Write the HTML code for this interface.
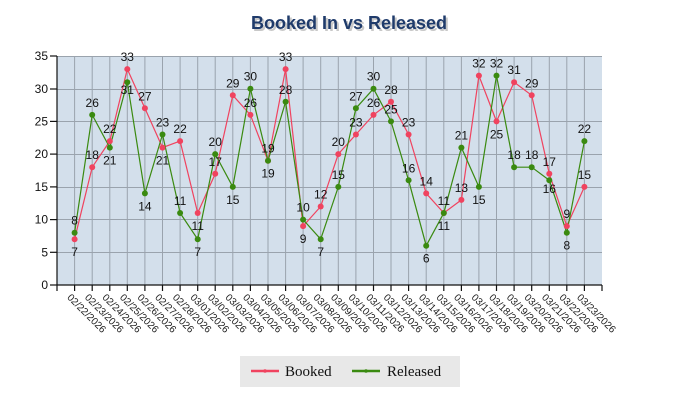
<!DOCTYPE html>
<html><head><meta charset="utf-8"><style>
html,body{margin:0;padding:0;background:#fff;}
svg{display:block;}
.v{font-family:"Liberation Sans",Arial,sans-serif;font-size:12px;fill:#111;text-anchor:middle;}
.x{font-family:"Liberation Sans",Arial,sans-serif;font-size:10px;fill:#222;}
.y{font-family:"Liberation Sans",Arial,sans-serif;font-size:12px;fill:#111;text-anchor:end;}
</style></head><body>
<svg width="700" height="400" viewBox="0 0 700 400" xmlns="http://www.w3.org/2000/svg">
<text x="351" y="31" text-anchor="middle" font-family="'Liberation Sans',Arial,sans-serif" font-weight="bold" font-size="18" fill="#c8c8c8">Booked In vs Released</text>
<text x="349" y="29" text-anchor="middle" font-family="'Liberation Sans',Arial,sans-serif" font-weight="bold" font-size="18" fill="#1f3b6b">Booked In vs Released</text>
<rect x="57" y="56" width="545" height="229" fill="#d3dfeb"/>
<g stroke="#9aa3ad" stroke-width="1">
<line x1="57" y1="56.5" x2="602" y2="56.5"/><line x1="57" y1="89.5" x2="602" y2="89.5"/><line x1="57" y1="121.5" x2="602" y2="121.5"/><line x1="57" y1="154.5" x2="602" y2="154.5"/><line x1="57" y1="187.5" x2="602" y2="187.5"/><line x1="57" y1="219.5" x2="602" y2="219.5"/><line x1="57" y1="252.5" x2="602" y2="252.5"/>
<line x1="74.6" y1="56" x2="74.6" y2="285"/><line x1="92.2" y1="56" x2="92.2" y2="285"/><line x1="109.8" y1="56" x2="109.8" y2="285"/><line x1="127.3" y1="56" x2="127.3" y2="285"/><line x1="144.9" y1="56" x2="144.9" y2="285"/><line x1="162.5" y1="56" x2="162.5" y2="285"/><line x1="180.1" y1="56" x2="180.1" y2="285"/><line x1="197.7" y1="56" x2="197.7" y2="285"/><line x1="215.2" y1="56" x2="215.2" y2="285"/><line x1="232.8" y1="56" x2="232.8" y2="285"/><line x1="250.4" y1="56" x2="250.4" y2="285"/><line x1="268.0" y1="56" x2="268.0" y2="285"/><line x1="285.6" y1="56" x2="285.6" y2="285"/><line x1="303.1" y1="56" x2="303.1" y2="285"/><line x1="320.7" y1="56" x2="320.7" y2="285"/><line x1="338.3" y1="56" x2="338.3" y2="285"/><line x1="355.9" y1="56" x2="355.9" y2="285"/><line x1="373.5" y1="56" x2="373.5" y2="285"/><line x1="391.0" y1="56" x2="391.0" y2="285"/><line x1="408.6" y1="56" x2="408.6" y2="285"/><line x1="426.2" y1="56" x2="426.2" y2="285"/><line x1="443.8" y1="56" x2="443.8" y2="285"/><line x1="461.4" y1="56" x2="461.4" y2="285"/><line x1="478.9" y1="56" x2="478.9" y2="285"/><line x1="496.5" y1="56" x2="496.5" y2="285"/><line x1="514.1" y1="56" x2="514.1" y2="285"/><line x1="531.7" y1="56" x2="531.7" y2="285"/><line x1="549.3" y1="56" x2="549.3" y2="285"/><line x1="566.8" y1="56" x2="566.8" y2="285"/><line x1="584.4" y1="56" x2="584.4" y2="285"/>
</g>
<g stroke="#111" stroke-width="1.2">
<line x1="57" y1="56" x2="57" y2="285"/><line x1="57" y1="285" x2="602" y2="285"/>
<line x1="50" y1="56" x2="57" y2="56"/><line x1="50" y1="89" x2="57" y2="89"/><line x1="50" y1="121.4" x2="57" y2="121.4"/><line x1="50" y1="154.1" x2="57" y2="154.1"/><line x1="50" y1="186.9" x2="57" y2="186.9"/><line x1="50" y1="219.6" x2="57" y2="219.6"/><line x1="50" y1="252.3" x2="57" y2="252.3"/><line x1="50" y1="285" x2="57" y2="285"/>
<line x1="57" y1="285" x2="57" y2="291"/><line x1="602" y1="285" x2="602" y2="291"/>
<line x1="74.6" y1="285" x2="74.6" y2="291"/><line x1="92.2" y1="285" x2="92.2" y2="291"/><line x1="109.8" y1="285" x2="109.8" y2="291"/><line x1="127.3" y1="285" x2="127.3" y2="291"/><line x1="144.9" y1="285" x2="144.9" y2="291"/><line x1="162.5" y1="285" x2="162.5" y2="291"/><line x1="180.1" y1="285" x2="180.1" y2="291"/><line x1="197.7" y1="285" x2="197.7" y2="291"/><line x1="215.2" y1="285" x2="215.2" y2="291"/><line x1="232.8" y1="285" x2="232.8" y2="291"/><line x1="250.4" y1="285" x2="250.4" y2="291"/><line x1="268.0" y1="285" x2="268.0" y2="291"/><line x1="285.6" y1="285" x2="285.6" y2="291"/><line x1="303.1" y1="285" x2="303.1" y2="291"/><line x1="320.7" y1="285" x2="320.7" y2="291"/><line x1="338.3" y1="285" x2="338.3" y2="291"/><line x1="355.9" y1="285" x2="355.9" y2="291"/><line x1="373.5" y1="285" x2="373.5" y2="291"/><line x1="391.0" y1="285" x2="391.0" y2="291"/><line x1="408.6" y1="285" x2="408.6" y2="291"/><line x1="426.2" y1="285" x2="426.2" y2="291"/><line x1="443.8" y1="285" x2="443.8" y2="291"/><line x1="461.4" y1="285" x2="461.4" y2="291"/><line x1="478.9" y1="285" x2="478.9" y2="291"/><line x1="496.5" y1="285" x2="496.5" y2="291"/><line x1="514.1" y1="285" x2="514.1" y2="291"/><line x1="531.7" y1="285" x2="531.7" y2="291"/><line x1="549.3" y1="285" x2="549.3" y2="291"/><line x1="566.8" y1="285" x2="566.8" y2="291"/><line x1="584.4" y1="285" x2="584.4" y2="291"/>
</g>
<text class="y" x="48" y="60">35</text><text class="y" x="48" y="93">30</text><text class="y" x="48" y="125.5">25</text><text class="y" x="48" y="158">20</text><text class="y" x="48" y="191">15</text><text class="y" x="48" y="223.5">10</text><text class="y" x="48" y="256.5">5</text><text class="y" x="48" y="289">0</text>
<g class="x">
<text transform="translate(66.6,298) rotate(45)">02/22/2026</text>
<text transform="translate(84.2,298) rotate(45)">02/23/2026</text>
<text transform="translate(101.8,298) rotate(45)">02/24/2026</text>
<text transform="translate(119.3,298) rotate(45)">02/25/2026</text>
<text transform="translate(136.9,298) rotate(45)">02/26/2026</text>
<text transform="translate(154.5,298) rotate(45)">02/27/2026</text>
<text transform="translate(172.1,298) rotate(45)">02/28/2026</text>
<text transform="translate(189.7,298) rotate(45)">03/01/2026</text>
<text transform="translate(207.2,298) rotate(45)">03/02/2026</text>
<text transform="translate(224.8,298) rotate(45)">03/03/2026</text>
<text transform="translate(242.4,298) rotate(45)">03/04/2026</text>
<text transform="translate(260.0,298) rotate(45)">03/05/2026</text>
<text transform="translate(277.6,298) rotate(45)">03/06/2026</text>
<text transform="translate(295.1,298) rotate(45)">03/07/2026</text>
<text transform="translate(312.7,298) rotate(45)">03/08/2026</text>
<text transform="translate(330.3,298) rotate(45)">03/09/2026</text>
<text transform="translate(347.9,298) rotate(45)">03/10/2026</text>
<text transform="translate(365.5,298) rotate(45)">03/11/2026</text>
<text transform="translate(383.0,298) rotate(45)">03/12/2026</text>
<text transform="translate(400.6,298) rotate(45)">03/13/2026</text>
<text transform="translate(418.2,298) rotate(45)">03/14/2026</text>
<text transform="translate(435.8,298) rotate(45)">03/15/2026</text>
<text transform="translate(453.4,298) rotate(45)">03/16/2026</text>
<text transform="translate(470.9,298) rotate(45)">03/17/2026</text>
<text transform="translate(488.5,298) rotate(45)">03/18/2026</text>
<text transform="translate(506.1,298) rotate(45)">03/19/2026</text>
<text transform="translate(523.7,298) rotate(45)">03/20/2026</text>
<text transform="translate(541.3,298) rotate(45)">03/21/2026</text>
<text transform="translate(558.8,298) rotate(45)">03/22/2026</text>
<text transform="translate(576.4,298) rotate(45)">03/23/2026</text>
</g>
<polyline fill="none" stroke="#f0435f" stroke-width="1.2" points="74.6,239.2 92.2,167.2 109.8,141.1 127.3,69.1 144.9,108.3 162.5,147.6 180.1,141.1 197.7,213.0 215.2,173.8 232.8,95.3 250.4,114.9 268.0,160.7 285.6,69.1 303.1,226.1 320.7,206.5 338.3,154.1 355.9,134.5 373.5,114.9 391.0,101.8 408.6,134.5 426.2,193.4 443.8,213.0 461.4,199.9 478.9,75.6 496.5,121.4 514.1,82.2 531.7,95.3 549.3,173.8 566.8,226.1 584.4,186.9"/>
<polyline fill="none" stroke="#3a8a10" stroke-width="1.2" points="74.6,232.7 92.2,114.9 109.8,147.6 127.3,82.2 144.9,193.4 162.5,134.5 180.1,213.0 197.7,239.2 215.2,154.1 232.8,186.9 250.4,88.7 268.0,160.7 285.6,101.8 303.1,219.6 320.7,239.2 338.3,186.9 355.9,108.3 373.5,88.7 391.0,121.4 408.6,180.3 426.2,245.7 443.8,213.0 461.4,147.6 478.9,186.9 496.5,75.6 514.1,167.2 531.7,167.2 549.3,180.3 566.8,232.7 584.4,141.1"/>
<g fill="#f0435f">
<circle cx="74.6" cy="239.2" r="3"/><circle cx="92.2" cy="167.2" r="3"/><circle cx="109.8" cy="141.1" r="3"/><circle cx="127.3" cy="69.1" r="3"/><circle cx="144.9" cy="108.3" r="3"/><circle cx="162.5" cy="147.6" r="3"/><circle cx="180.1" cy="141.1" r="3"/><circle cx="197.7" cy="213.0" r="3"/><circle cx="215.2" cy="173.8" r="3"/><circle cx="232.8" cy="95.3" r="3"/><circle cx="250.4" cy="114.9" r="3"/><circle cx="268.0" cy="160.7" r="3"/><circle cx="285.6" cy="69.1" r="3"/><circle cx="303.1" cy="226.1" r="3"/><circle cx="320.7" cy="206.5" r="3"/><circle cx="338.3" cy="154.1" r="3"/><circle cx="355.9" cy="134.5" r="3"/><circle cx="373.5" cy="114.9" r="3"/><circle cx="391.0" cy="101.8" r="3"/><circle cx="408.6" cy="134.5" r="3"/><circle cx="426.2" cy="193.4" r="3"/><circle cx="443.8" cy="213.0" r="3"/><circle cx="461.4" cy="199.9" r="3"/><circle cx="478.9" cy="75.6" r="3"/><circle cx="496.5" cy="121.4" r="3"/><circle cx="514.1" cy="82.2" r="3"/><circle cx="531.7" cy="95.3" r="3"/><circle cx="549.3" cy="173.8" r="3"/><circle cx="566.8" cy="226.1" r="3"/><circle cx="584.4" cy="186.9" r="3"/>
</g>
<g fill="#3a8a10">
<circle cx="74.6" cy="232.7" r="3"/><circle cx="92.2" cy="114.9" r="3"/><circle cx="109.8" cy="147.6" r="3"/><circle cx="127.3" cy="82.2" r="3"/><circle cx="144.9" cy="193.4" r="3"/><circle cx="162.5" cy="134.5" r="3"/><circle cx="180.1" cy="213.0" r="3"/><circle cx="197.7" cy="239.2" r="3"/><circle cx="215.2" cy="154.1" r="3"/><circle cx="232.8" cy="186.9" r="3"/><circle cx="250.4" cy="88.7" r="3"/><circle cx="268.0" cy="160.7" r="3"/><circle cx="285.6" cy="101.8" r="3"/><circle cx="303.1" cy="219.6" r="3"/><circle cx="320.7" cy="239.2" r="3"/><circle cx="338.3" cy="186.9" r="3"/><circle cx="355.9" cy="108.3" r="3"/><circle cx="373.5" cy="88.7" r="3"/><circle cx="391.0" cy="121.4" r="3"/><circle cx="408.6" cy="180.3" r="3"/><circle cx="426.2" cy="245.7" r="3"/><circle cx="443.8" cy="213.0" r="3"/><circle cx="461.4" cy="147.6" r="3"/><circle cx="478.9" cy="186.9" r="3"/><circle cx="496.5" cy="75.6" r="3"/><circle cx="514.1" cy="167.2" r="3"/><circle cx="531.7" cy="167.2" r="3"/><circle cx="549.3" cy="180.3" r="3"/><circle cx="566.8" cy="232.7" r="3"/><circle cx="584.4" cy="141.1" r="3"/>
</g>
<g class="v">
<text x="74.6" y="256.2">7</text><text x="92.2" y="159.2">18</text><text x="109.8" y="133.1">22</text><text x="127.3" y="61.1">33</text><text x="144.9" y="100.3">27</text><text x="162.5" y="164.6">21</text><text x="180.1" y="133.1">22</text><text x="197.7" y="230">11</text><text x="215.2" y="165.8">17</text><text x="232.8" y="87.3">29</text><text x="250.4" y="106.9">26</text><text x="268.0" y="152.7">19</text><text x="285.6" y="61.1">33</text><text x="303.1" y="243.1">9</text><text x="320.7" y="198.5">12</text><text x="338.3" y="146.1">20</text><text x="355.9" y="126.5">23</text><text x="373.5" y="106.9">26</text><text x="391.0" y="93.8">28</text><text x="408.6" y="126.5">23</text><text x="426.2" y="185.4">14</text><text x="443.8" y="205">11</text><text x="461.4" y="191.9">13</text><text x="478.9" y="67.6">32</text><text x="496.5" y="138.4">25</text><text x="514.1" y="74.2">31</text><text x="531.7" y="87.3">29</text><text x="549.3" y="165.8">17</text><text x="566.8" y="218.1">9</text><text x="584.4" y="178.9">15</text>
<text x="74.6" y="224.7">8</text><text x="92.2" y="106.9">26</text><text x="109.8" y="164.6">21</text><text x="127.3" y="94">31</text><text x="144.9" y="210.4">14</text><text x="162.5" y="126.5">23</text><text x="180.1" y="205">11</text><text x="197.7" y="256.2">7</text><text x="215.2" y="146.1">20</text><text x="232.8" y="203.9">15</text><text x="250.4" y="80.7">30</text><text x="268.0" y="177.7">19</text><text x="285.6" y="93.8">28</text><text x="303.1" y="211.6">10</text><text x="320.7" y="256.2">7</text><text x="338.3" y="178.9">15</text><text x="355.9" y="100.3">27</text><text x="373.5" y="80.7">30</text><text x="391.0" y="113.4">25</text><text x="408.6" y="172.3">16</text><text x="426.2" y="262.7">6</text><text x="443.8" y="230">11</text><text x="461.4" y="139.6">21</text><text x="478.9" y="203.9">15</text><text x="496.5" y="67.6">32</text><text x="514.1" y="159.2">18</text><text x="531.7" y="159.2">18</text><text x="549.3" y="193">16</text><text x="566.8" y="249.7">8</text><text x="584.4" y="133.1">22</text>
</g>
<rect x="240" y="356" width="220" height="31" fill="#e8e8e8"/>
<line x1="251" y1="371" x2="279" y2="371" stroke="#f0435f" stroke-width="2.5"/><circle cx="265" cy="371" r="1.8" fill="#f0435f"/>
<text x="285" y="376" font-family="'Liberation Serif',serif" font-size="15" fill="#111">Booked</text>
<line x1="352" y1="371" x2="380" y2="371" stroke="#3a8a10" stroke-width="2.5"/><circle cx="366" cy="371" r="1.8" fill="#3a8a10"/>
<text x="387" y="376" font-family="'Liberation Serif',serif" font-size="15" fill="#111">Released</text>
</svg>
</body></html>
